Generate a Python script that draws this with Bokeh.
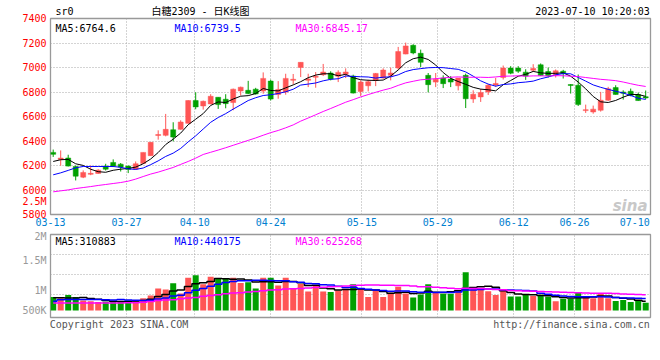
import pandas as pd
from bokeh.plotting import figure
from bokeh.models import Range1d, FixedTicker, Label, LinearAxis
from bokeh.layouts import column
from bokeh.embed import file_html
from bokeh.resources import INLINE

# ---------------- data ----------------
open_ = [6307, 6250, 6261, 6192, 6105, 6128, 6135, 6195, 6225, 6211,
         6195, 6170, 6217, 6280, 6445, 6446, 6492, 6495, 6544, 6730,
         6686, 6703, 6757, 6741, 6714, 6809, 6814, 6823, 6808, 6889,
         6780, 6799, 6896, 7001, 6895, 6920, 6941, 6955, 6928, 6944,
         6930, 6805, 6851, 6895, 6914, 6936, 6996, 7110, 7181, 7116,
         6936, 6881, 6914, 6906, 6851, 6936, 6743, 6760, 6801, 6858,
         6918, 6995, 6995, 6962, 6978, 7022, 6967, 6940, 6970, 6861,
         6855, 6648, 6637, 6651, 6733, 6836, 6800, 6806, 6779, 6762]
high = [6330, 6323, 6288, 6200, 6160, 6200, 6170, 6214, 6250, 6220,
        6200, 6233, 6307, 6389, 6487, 6621, 6553, 6569, 6733, 6798,
        6730, 6782, 6757, 6782, 6828, 6844, 6891, 6834, 6960, 6900,
        6889, 6949, 6947, 7042, 6949, 6963, 7029, 6969, 6977, 6993,
        6941, 6895, 6900, 6955, 6993, 6999, 7168, 7203, 7190, 7146,
        6955, 6955, 6936, 6930, 6914, 6950, 6814, 6825, 6864, 6915,
        7016, 7011, 7011, 6986, 7027, 7033, 7000, 6984, 6981, 6864,
        6943, 6697, 6689, 6801, 6842, 6855, 6814, 6828, 6795, 6812]
low = [6270, 6198, 6192, 6078, 6097, 6121, 6132, 6159, 6187, 6151,
       6138, 6170, 6217, 6280, 6411, 6438, 6397, 6492, 6541, 6659,
       6656, 6700, 6662, 6667, 6651, 6771, 6782, 6779, 6786, 6731,
       6745, 6778, 6862, 6922, 6840, 6835, 6930, 6895, 6881, 6914,
       6788, 6767, 6805, 6848, 6909, 6895, 6982, 7108, 7108, 7004,
       6797, 6840, 6832, 6840, 6813, 6669, 6711, 6719, 6776, 6842,
       6902, 6945, 6956, 6899, 6964, 6930, 6918, 6918, 6910, 6787,
       6686, 6629, 6623, 6640, 6727, 6779, 6738, 6765, 6728, 6741]
close = [6291, 6261, 6195, 6113, 6143, 6135, 6162, 6170, 6195, 6187,
         6168, 6214, 6307, 6389, 6452, 6495, 6432, 6555, 6730, 6678,
         6724, 6765, 6697, 6705, 6823, 6839, 6787, 6784, 6911, 6742,
         6821, 6911, 6904, 7042, 6906, 6928, 6963, 6906, 6960, 6963,
         6791, 6881, 6884, 6952, 6979, 6955, 7130, 7176, 7119, 7042,
         6860, 6905, 6868, 6881, 6914, 6745, 6782, 6795, 6855, 6870,
         6995, 6954, 6970, 6930, 6992, 6935, 6932, 6973, 6951, 6853,
         6697, 6656, 6660, 6733, 6826, 6780, 6790, 6771, 6730, 6752]
volume = [439000, 407000, 489000, 439000, 357000, 333000, 316000, 324000, 333000, 324000,
          357000, 357000, 407000, 481000, 653000, 628000, 784000, 530000, 924000, 982000,
          760000, 949000, 891000, 899000, 924000, 793000, 809000, 653000, 924000, 924000,
          727000, 924000, 653000, 768000, 579000, 743000, 579000, 563000, 604000, 645000,
          760000, 645000, 439000, 604000, 439000, 546000, 694000, 530000, 431000, 505000,
          760000, 563000, 522000, 522000, 604000, 1056000, 678000, 620000, 587000, 489000,
          604000, 456000, 456000, 505000, 464000, 497000, 448000, 333000, 398000, 398000,
          538000, 456000, 407000, 538000, 407000, 341000, 365000, 316000, 357000, 300000]

# moving-average values before a full window exists
ma5_head = [6233, 6247, 6250, 6214]
ma10_head = [6124, 6140, 6160, 6181, 6192, 6192, 6192, 6192, 6192]
ma30_head = [5985, 5993, 6001, 6012, 6020, 6028, 6037, 6045, 6053, 6061,
             6072, 6089, 6110, 6130, 6146, 6165, 6184, 6209, 6233, 6260,
             6290, 6308, 6326, 6345, 6365, 6385, 6405, 6425, 6447]
vol_ma5_head = [423000, 423000, 415000, 415000]
vol_ma10_head = [333000, 374000, 382000, 382000, 382000, 382000, 382000, 374000, 365000]
vol_ma30_head = [292000, 292000, 292000, 292000, 292000, 292000, 292000, 292000, 292000, 292000,
                 300000, 300000, 308000, 332000, 357000, 365000, 374000, 398000, 415000, 431000,
                 460000, 480000, 500000, 520000, 540000, 550000, 565000, 580000, 595000]

x_tick_labels = ["03-13", "03-27", "04-10", "04-24", "05-15", "05-29", "06-12", "06-26", "07-10"]
x_tick_index = [0, 10, 19, 29, 41, 51, 61, 69, 79]
price_ticks = [5800, 6000, 6200, 6400, 6600, 6800, 7000, 7200, 7400]
vol_grid_ticks = [500000, 1000000, 1500000]
vol_axis_labels = ["2M", "1.5M", "1M", "500K"]
overflow_label = "2.5M"

header_texts = ["sr0", "白糖2309 - 日K线图", "2023-07-10 10:20:03"]
price_ma_labels = ["MA5:6764.6", "MA10:6739.5", "MA30:6845.17"]
vol_ma_labels = ["MA5:310883", "MA10:440175", "MA30:625268"]
footer_texts = ["Copyright 2023 SINA.COM", "http://finance.sina.com.cn"]
logo_text = "sina"

# ---------------- styles / layout ----------------
MONO = "DejaVu Sans Mono"
MONO_CJK = "DejaVu Sans Mono, Noto Sans CJK SC"
RED = "#FF5555"
GREEN = "#00A000"
MA_COLORS = ["#000000", "#0000FF", "#FF00FF"]
GRID = "#A8A8A8"
FRAME = "#999999"

FRAME_LEFT = 50          # px of the chart boxes
PX_PER_UNIT = 7.5        # px per trading day
FIRST_CENTER = 52.7      # px of the first candle centre

n = len(close)
idx = list(range(n))
x0 = (FRAME_LEFT - FIRST_CENTER) / PX_PER_UNIT
x1 = x0 + 600 / PX_PER_UNIT
n_slots = x_tick_index[-1]


def px_to_x(px):
    return round((px - FIRST_CENTER) / PX_PER_UNIT, 4)


def moving_average(values, w, head):
    s = pd.Series(values, dtype=float).rolling(w).mean().tolist()
    return list(head) + s[len(head):]


ma_price = [moving_average(close, 5, ma5_head), moving_average(close, 10, ma10_head),
            moving_average(close, 30, ma30_head)]
ma_vol = [moving_average(volume, 5, vol_ma5_head), moving_average(volume, 10, vol_ma10_head),
          moving_average(volume, 30, vol_ma30_head)]

colors = [RED if c >= o else GREEN for o, c in zip(open_, close)]
body_bot = [min(o, c) for o, c in zip(open_, close)]
body_top = [max(max(o, c), b + 8) for o, c, b in zip(open_, close, body_bot)]

grid_pos = [x0 + i * (x1 - x0) / n_slots for i in x_tick_index]
label_pos = [round(min(max(g, x0 + 0.01), x1 - 2.1), 4) for g in grid_pos]

xr = Range1d(x0, x1)


def style_axis(ax, color, standoff, size="10px", font=MONO):
    ax.axis_line_color = None
    ax.major_tick_line_color = None
    ax.minor_tick_line_color = None
    ax.major_tick_out = 0
    ax.major_tick_in = 0
    ax.minor_tick_out = 0
    ax.minor_tick_in = 0
    ax.major_label_text_font = font
    ax.major_label_text_font_size = size
    ax.major_label_text_color = color
    ax.major_label_standoff = standoff


def style_grid(p):
    for g in (p.xgrid, p.ygrid):
        g.grid_line_color = GRID
        g.grid_line_dash = "1 2"
        g.grid_line_width = 1


def add_label(p, x, y, text, color, size="10px", font=MONO, align="left", style="normal"):
    p.add_layout(Label(x=x, y=y, x_units="screen", y_units="screen", text=text,
                       text_color=color, text_font=font, text_font_size=size,
                       text_align=align, text_baseline="alphabetic", text_font_style=style))


# ---------------- price chart ----------------
p1 = figure(width=660, height=230, x_range=xr, y_range=Range1d(price_ticks[0], price_ticks[-1]),
            output_backend="svg", toolbar_location=None,
            min_border_left=FRAME_LEFT, min_border_right=10, min_border_top=18, min_border_bottom=16)
p1.background_fill_color = "white"
p1.border_fill_color = "white"
p1.outline_line_color = FRAME
p1.outline_line_width = 1.3
p1.xgrid.ticker = FixedTicker(ticks=grid_pos[1:-1])
p1.ygrid.ticker = FixedTicker(ticks=price_ticks[1:-1])
style_grid(p1)

p1.xaxis.ticker = FixedTicker(ticks=label_pos)
p1.xaxis.major_label_overrides = {t: s for t, s in zip(label_pos, x_tick_labels)}
style_axis(p1.xaxis, "#0080D0", 3)

# the volume scale's "2.5M" label spills into the price panel
overflow_pos = round(price_ticks[0] + (214 - 201) / 196 * (price_ticks[-1] - price_ticks[0]))
p1.yaxis.ticker = FixedTicker(ticks=price_ticks + [overflow_pos])
p1.yaxis.major_label_overrides = {overflow_pos: overflow_label}
style_axis(p1.yaxis, "#FF0000", 4)

header_px = [64, 200, 592]
header_pos = [px_to_x(v) for v in header_px]
head_axis = LinearAxis(ticker=FixedTicker(ticks=header_pos),
                       major_label_overrides={t: s for t, s in zip(header_pos, header_texts)})
style_axis(head_axis, "#000000", 2, font=MONO_CJK)
p1.add_layout(head_axis, "above")

p1.segment(x0=idx, y0=low, x1=idx, y1=high, line_color=colors, line_width=1)
p1.vbar(x=idx, width=0.667, bottom=body_bot, top=body_top, fill_color=colors, line_color=colors,
        line_width=0.5)
for ys, col in zip(ma_price, MA_COLORS):
    p1.line(x=idx, y=ys, line_color=col, line_width=1)

for xx, txt, col in zip([5, 124, 245], price_ma_labels, MA_COLORS):
    add_label(p1, xx, 186.5, txt, col)
add_label(p1, 597, 9, logo_text, "#C8C8C8", size="15px", font="DejaVu Sans", align="right",
          style="bold italic")

# ---------------- volume chart ----------------
vmin, vmax = -70000, 2000000
p2 = figure(width=660, height=102, x_range=xr, y_range=Range1d(vmin, vmax),
            output_backend="svg", toolbar_location=None,
            min_border_left=FRAME_LEFT, min_border_right=10, min_border_top=4, min_border_bottom=14)
p2.background_fill_color = "white"
p2.border_fill_color = "white"
p2.outline_line_color = FRAME
p2.outline_line_width = 1.3
p2.xgrid.ticker = FixedTicker(ticks=grid_pos[1:-1])
p2.ygrid.ticker = FixedTicker(ticks=vol_grid_ticks)
style_grid(p2)

# sina prints the volume labels off their grid lines; place them where they appear
vol_label_px = [234, 260.7, 290.3, 310.7]
vol_label_pos = [round(vmax - (v - 234) / 84 * (vmax - vmin)) for v in vol_label_px]
p2.yaxis.ticker = FixedTicker(ticks=vol_label_pos)
p2.yaxis.major_label_overrides = {t: s for t, s in zip(vol_label_pos, vol_axis_labels)}
style_axis(p2.yaxis, "#999999", 4)

footer_px = [118.5, 571]
footer_pos = [px_to_x(v) for v in footer_px]
p2.xaxis.ticker = FixedTicker(ticks=footer_pos)
p2.xaxis.major_label_overrides = {t: s for t, s in zip(footer_pos, footer_texts)}
style_axis(p2.xaxis, "#555555", 1)

vol_base = 105000
p2.vbar(x=idx, width=0.8, bottom=vol_base, top=volume, fill_color=colors, line_color=None)
for ys, col in zip(ma_vol, MA_COLORS):
    p2.step(x=idx, y=ys, mode="center", line_color=col, line_width=1.5)

for xx, txt, col in zip([5, 124, 245], vol_ma_labels, MA_COLORS):
    add_label(p2, xx, 76, txt, col)

layout = column(p1, p2, spacing=0)
open("out.html", "w").write(file_html(layout, INLINE))
